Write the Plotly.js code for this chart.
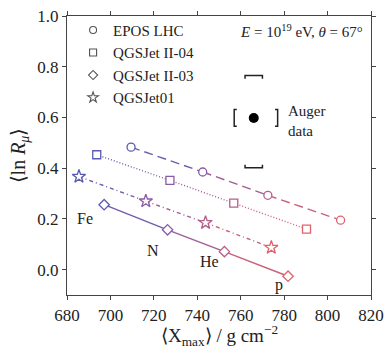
<!DOCTYPE html>
<html><head><meta charset="utf-8">
<script src="https://cdn.plot.ly/plotly-3.0.1.min.js"></script>
<style>html,body{margin:0;padding:0;background:#fff}#c{width:385px;height:348px}</style>
</head><body><div id="c"></div>
<script>
// Data (Fe, N, He, p)
const elements = ["Fe", "N", "He", "p"];
const eposX = [709.5, 742.5, 772.5, 806];
const eposY = [0.483, 0.385, 0.293, 0.195];
const q04X = [693.7, 727.4, 756.8, 790.3];
const q04Y = [0.453, 0.352, 0.262, 0.160];
const q03X = [697.1, 726.3, 752.5, 781.8];
const q03Y = [0.256, 0.157, 0.071, -0.026];
const q01X = [685.5, 716.3, 743.8, 774.1];
const q01Y = [0.367, 0.270, 0.185, 0.087];
const augerX = [766];
const augerY = [0.598];
const augerSysX = [9, 11];     // minus, plus
const augerSysY = [0.196, 0.167]; // minus, plus
const xTicks = [680, 700, 720, 740, 760, 780, 800, 820];
const yTicks = [0.0, 0.2, 0.4, 0.6, 0.8, 1.0];

const elemColors = ["#5a5ab2", "#8a5ca6", "#b65e88", "#de626c"];
const SERIF = "Liberation Serif, Times New Roman, serif";

function hex2rgb(h){return [1,3,5].map(i=>parseInt(h.substr(i,2),16));}
function mix(a,b){const A=hex2rgb(a),B=hex2rgb(b);return 'rgb('+A.map((v,i)=>Math.round((v+B[i])/2)).join(',')+')';}

const models = [
  {name:"EPOS LHC", x:eposX, y:eposY, symbol:"circle", dash:"9px,5px"},
  {name:"QGSJet II-04", x:q04X, y:q04Y, symbol:"square", dash:"1px,2px"},
  {name:"QGSJet II-03", x:q03X, y:q03Y, symbol:"diamond", dash:"solid"},
  {name:"QGSJet01", x:q01X, y:q01Y, symbol:"star", dash:"4px,3px,1px,3px"}
];

const traces = [];
models.forEach(m=>{
  for(let i=0;i<m.x.length-1;i++){
    traces.push({x:[m.x[i],m.x[i+1]], y:[m.y[i],m.y[i+1]], mode:"lines", showlegend:false, hoverinfo:"skip",
      line:{color:mix(elemColors[i],elemColors[i+1]), width:1.4, dash:m.dash}});
  }
});
models.forEach(m=>{
  traces.push({x:m.x, y:m.y, mode:"markers", showlegend:false,
    marker:{symbol:m.symbol, size:m.symbol==="star"?10:8, color:"#fff", line:{color:elemColors, width:1.3}}});
});
models.forEach(m=>{
  traces.push({x:[null], y:[null], mode:"markers", name:m.name, showlegend:true,
    marker:{symbol:m.symbol, size:m.symbol==="star"?8:7, color:"#fff", line:{color:"#555", width:1.1}}});
});

// Auger point and systematic brackets
const ax = augerX[0], ay = augerY[0];
const bw = 4, bh = 0.033, tk = 1.2, tky = 0.012;
const bx1 = ax - augerSysX[0], bx2 = ax + augerSysX[1];
const by1 = ay - augerSysY[0], by2 = ay + augerSysY[1];
const brk = {mode:"lines", showlegend:false, hoverinfo:"skip", line:{color:"#222", width:1.5}};
traces.push(Object.assign({x:[ax-bw,ax-bw,ax+bw,ax+bw], y:[by2-tky,by2,by2,by2-tky]}, brk));
traces.push(Object.assign({x:[ax-bw,ax-bw,ax+bw,ax+bw], y:[by1+tky,by1,by1,by1+tky]}, brk));
traces.push(Object.assign({x:[bx1+tk,bx1,bx1,bx1+tk], y:[ay-bh,ay-bh,ay+bh,ay+bh]}, brk));
traces.push(Object.assign({x:[bx2-tk,bx2,bx2,bx2-tk], y:[ay-bh,ay-bh,ay+bh,ay+bh]}, brk));
traces.push({x:augerX, y:augerY, mode:"markers", showlegend:false, marker:{symbol:"circle", size:10, color:"#000"}});

const labelOff = [[-9,-0.055],[-6.5,-0.083],[-7,-0.038],[-4,-0.033]];
const annotations = elements.map((e,i)=>({x:q03X[i]+labelOff[i][0], y:q03Y[i]+labelOff[i][1], text:e, showarrow:false,
  font:{family:SERIF, size:16, color:"#222"}}));
annotations.push({xref:"paper", yref:"paper", x:0.98, y:0.945, xanchor:"right", yanchor:"middle", showarrow:false,
  text:"<i>E</i> = 10<sup>19</sup> eV, <i>θ</i> = 67°", font:{family:SERIF, size:15, color:"#222"}});
annotations.push({x:bx2+4, y:ay-0.01, xanchor:"left", yanchor:"middle", showarrow:false, align:"left",
  text:"Auger<br>data", font:{family:SERIF, size:15, color:"#222"}});
annotations.push({xref:"paper", yref:"paper", x:0.5, y:-0.145, xanchor:"center", yanchor:"middle", showarrow:false,
  text:"⟨X<sub>max</sub>⟩ / g cm<sup>−2</sup>", font:{family:SERIF, size:19, color:"#222"}});

const axisCommon = {showline:true, linecolor:"#444", linewidth:1.2, mirror:"ticks", ticks:"outside", ticklen:4,
  tickcolor:"#444", showgrid:false, zeroline:false, tickfont:{family:SERIF, size:17, color:"#222"}};

const layout = {
  width:385, height:348, margin:{l:67, r:14, t:16, b:53}, paper_bgcolor:"#fff", plot_bgcolor:"#fff",
  xaxis:Object.assign({}, axisCommon, {range:[680,820], tickvals:xTicks, ticktext:xTicks.map(String)}),
  yaxis:Object.assign({}, axisCommon, {range:[-0.1,1.0], tickvals:yTicks, ticktext:yTicks.map(v=>v.toFixed(1)),
    title:{text:"⟨ln <i>R</i><sub><i>μ</i></sub>⟩", font:{family:SERIF, size:20, color:"#222"}, standoff:6}}),
  legend:{x:0.02, y:1.008, xanchor:"left", yanchor:"top", bgcolor:"rgba(0,0,0,0)", font:{family:SERIF, size:15, color:"#222"},
    itemwidth:30, tracegroupgap:0},
  annotations:annotations
};
Plotly.newPlot("c", traces, layout, {displayModeBar:false, staticPlot:true});
</script></body></html>
